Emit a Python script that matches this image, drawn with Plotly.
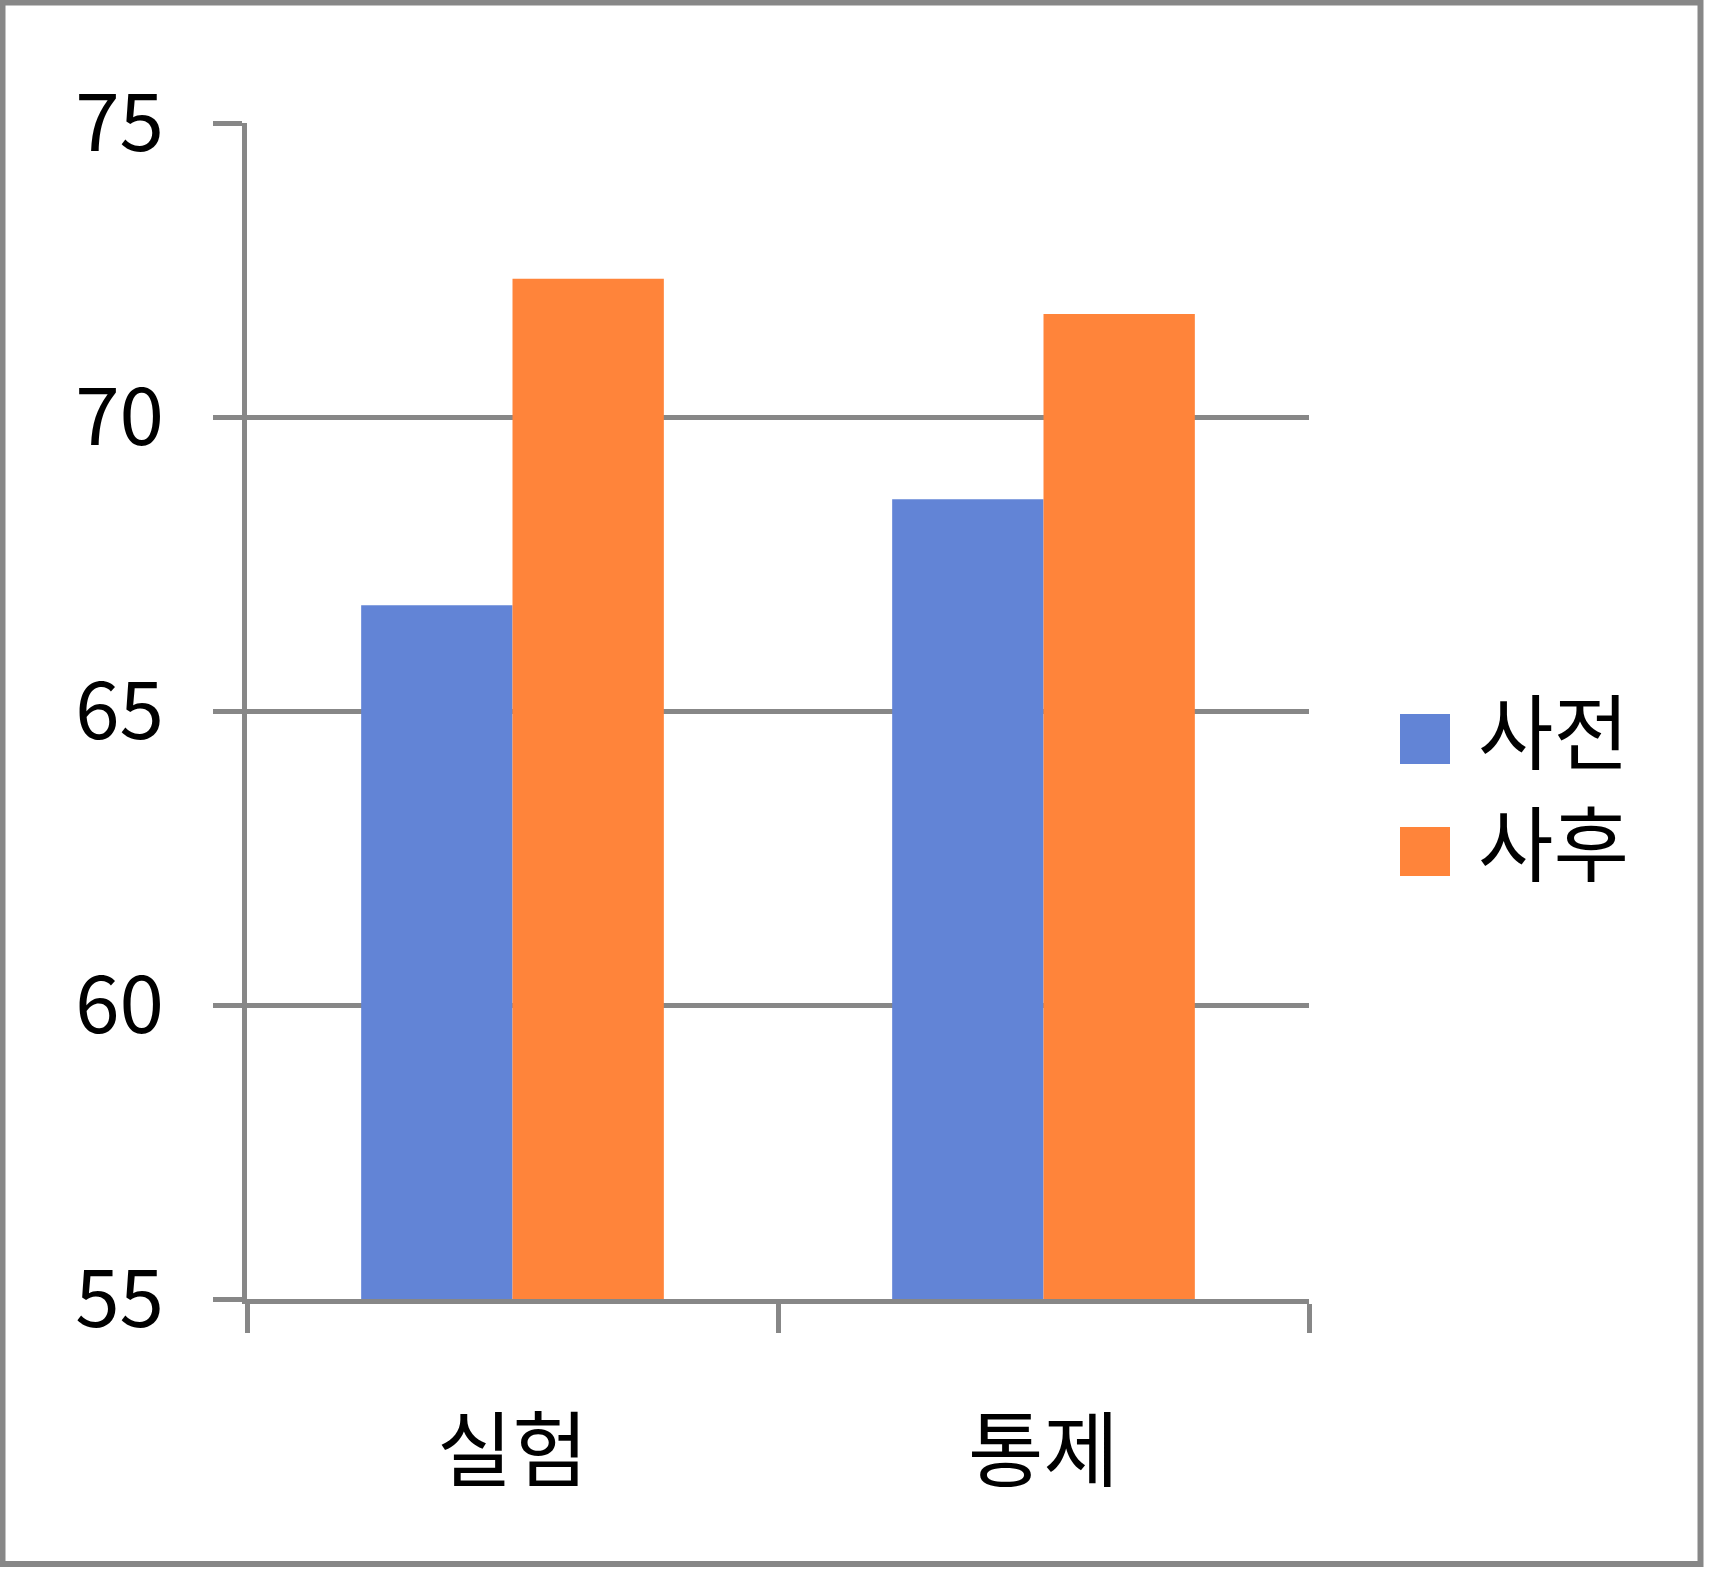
import plotly.graph_objects as go

categories = ["실험", "통제"]
series_names = ["사전", "사후"]
pre_values = [66.8, 68.6]
post_values = [72.35, 71.75]
series_colors = ["#6284D6", "#FF843A"]
y_ticks = [55, 60, 65, 70, 75]

W, H = 1709, 1571
L, R, T, B = 247, 400, 123, 272
PW, PH = W - L - R, H - T - B
GRID = "#878787"
FONT = "Noto Sans CJK KR"


def px_x(p):
    return (p - L) / PW


def px_y(p):
    return (H - B - p) / PH


fig = go.Figure()
for name, vals, col in zip(series_names, [pre_values, post_values], series_colors):
    fig.add_trace(go.Bar(x=categories, y=vals, name=name, marker_color=col,
                         marker_line_width=0, showlegend=False))

fig.update_layout(
    width=W, height=H,
    margin=dict(l=L, r=R, t=T, b=B, pad=0),
    paper_bgcolor="white", plot_bgcolor="white",
    barmode="group", bargap=0.43, bargroupgap=0,
    font=dict(family=FONT, color="black", size=82),
    showlegend=False,
)
fig.update_yaxes(range=[55, 75], tickvals=y_ticks, showgrid=True, gridcolor=GRID, gridwidth=5,
                 showline=True, linecolor=GRID, linewidth=5, ticks="outside", ticklen=29,
                 tickwidth=5, tickcolor=GRID, zeroline=False, ticklabelstandoff=33,
                 tickfont=dict(size=80, family=FONT))
fig.update_xaxes(showline=True, linecolor=GRID, linewidth=5, ticks="outside", ticklen=29,
                 tickwidth=5, tickcolor=GRID, tickson="boundaries", ticklabelstandoff=78,
                 tickfont=dict(size=82, family=FONT))

# legend drawn manually with large swatches
legend_rows = [(714, 764), (827, 876)]
for (y0, y1), name, col in zip(legend_rows, series_names, series_colors):
    fig.add_shape(type="rect", xref="paper", yref="paper", x0=px_x(1400), x1=px_x(1450),
                  y0=px_y(y1), y1=px_y(y0), fillcolor=col, line_width=0)
    fig.add_annotation(xref="paper", yref="paper", x=px_x(1476), y=px_y((y0 + y1) / 2 - 12),
                       text=name, showarrow=False, xanchor="left", yanchor="middle",
                       font=dict(size=82, family=FONT, color="black"))

# outer frame
fig.add_shape(type="rect", xref="paper", yref="paper", x0=px_x(2.5), x1=px_x(1700.5),
              y0=px_y(1564), y1=px_y(2.5), line=dict(color=GRID, width=6), layer="below")

fig.write_html("out.html", config={"displayModeBar": False},
               post_script="document.body.style.margin='0';")
